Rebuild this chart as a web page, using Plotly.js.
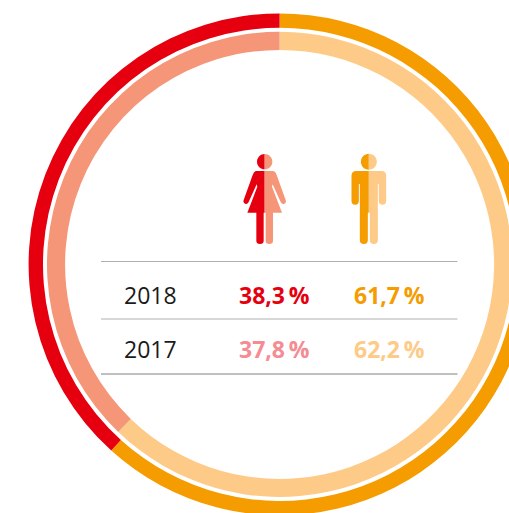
<!DOCTYPE html>
<html>
<head>
<meta charset="utf-8">
<script src="https://cdn.plot.ly/plotly-3.0.1.min.js"></script>
<style>html,body{margin:0;padding:0;background:#fff;overflow:hidden;width:509px;height:513px}#c{position:absolute;left:0;top:0;width:558px;height:528px}</style>
</head>
<body>
<div id="c"></div>
<script>
const years = ['2018', '2017'];
const women = [38.3, 37.8];
const men = [61.7, 62.2];
const womenLabels = ['38,3\u2009%', '37,8\u2009%'];
const menLabels = ['61,7\u2009%', '62,2\u2009%'];
const colors2018 = ['#F59C00', '#E6000F'];
const colors2017 = ['#FDCB87', '#F59679'];
const labelColors2017 = ['#F58B93', '#FDCB87'];

const W = 560, H = 528, CX = 279.6, CY = 264.4;
const px = x => x / W, py = y => 1 - y / H;
function dom(r) {
  return {x: [(CX - r) / W, (CX + r) / W], y: [1 - (CY + r) / H, 1 - (CY - r) / H]};
}
function ring(i, rOut, rIn, cols) {
  return {
    type: 'pie', sort: false, direction: 'clockwise', rotation: 0,
    values: [men[i], women[i]], labels: ['Männer', 'Frauen'],
    marker: {colors: cols, line: {width: 0}},
    textinfo: 'none', hoverinfo: 'none', showlegend: false,
    hole: rIn / rOut, domain: dom(rOut)
  };
}

/* icon outlines: left half, in a crop-based grid (3 units = 1 px) */
const woman = [
  ['M',0,93],['L',-24,93],['Q',-32,93,-36,105],['L',-63,180],['Q',-66,190,-57,192],['Q',-51,193,-48,186],
  ['L',-24,133],['L',-22,140],['L',-52,218],['L',-25,218],['L',-25,302],['Q',-25,312,-14,312],['Q',-3,312,-3,302],['L',-3,218],['L',0,218],['Z']
];
const man = [
  ['M',0,93],['L',-38,93],['Q',-52,93,-52,107],['L',-52,182],['Q',-52,194,-41,194],['Q',-30,194,-30,182],
  ['L',-30,132],['L',-27,132],['L',-27,300],['Q',-27,312,-15,312],['Q',-3,312,-3,300],['L',-3,218],['L',0,218],['Z']
];
function pathOf(segs, cx, dir) {
  let out = '';
  segs.forEach(s => {
    out += s[0];
    for (let k = 1; k < s.length; k += 2) {
      const x = 230 + (cx + dir * s[k]) / 3, y = 140 + s[k + 1] / 3;
      out += px(x).toFixed(5) + ',' + py(y).toFixed(5) + ' ';
    }
  });
  return out;
}
function headOf(r) {
  const k = r * 0.5523, cy = 65;
  return [['M',0,cy-r],['C',-k,cy-r,-r,cy-k,-r,cy],['C',-r,cy+k,-k,cy+r,0,cy+r],['Z']];
}
function shp(path, color) {
  return {type: 'path', xref: 'paper', yref: 'paper', path: path, fillcolor: color, line: {width: 0}, layer: 'above'};
}
const shapes = [];
[[104, woman, 23, colors2018[1], colors2017[1]], [416.5, man, 24, colors2018[0], colors2017[0]]].forEach(d => {
  const head = headOf(d[2]);
  shapes.push(shp(pathOf(d[1], d[0], 1), d[3]));
  shapes.push(shp(pathOf(head, d[0], 1), d[3]));
  shapes.push(shp(pathOf(d[1], d[0], -1), d[4]));
  shapes.push(shp(pathOf(head, d[0], -1), d[4]));
});
[[261.5, '#b0b0b0'], [319, '#b0b0b0'], [374, '#808080']].forEach(l => {
  shapes.push({type: 'line', xref: 'paper', yref: 'paper', x0: px(101), x1: px(457.5), y0: py(l[0]), y1: py(l[0]), line: {color: l[1], width: 1}});
});

const annotations = [];
function txt(x, y, s, color, fam) {
  annotations.push({xref: 'paper', yref: 'paper', x: px(x), y: py(y), text: s, showarrow: false,
    xanchor: 'left', yanchor: 'middle', borderpad: 0, font: {family: fam, size: 23, color: color}});
}
const FONT = '"Open Sans", sans-serif';
[295, 349].forEach((y, i) => {
  txt(122.5, y, years[i], '#1a1a1a', FONT);
  txt(238, y, '<b>' + womenLabels[i] + '</b>', i ? labelColors2017[0] : colors2018[1], FONT);
  txt(352.5, y, '<b>' + menLabels[i] + '</b>', i ? labelColors2017[1] : colors2018[0], FONT);
});

Plotly.newPlot('c', [ring(0, 251, 236.6, colors2018), ring(1, 232.6, 214.5, colors2017)], {
  width: W, height: H, margin: {l: 0, r: 0, t: 0, b: 0},
  paper_bgcolor: '#fff', showlegend: false, shapes: shapes, annotations: annotations
}, {displayModeBar: false, staticPlot: true});
</script>
</body>
</html>
